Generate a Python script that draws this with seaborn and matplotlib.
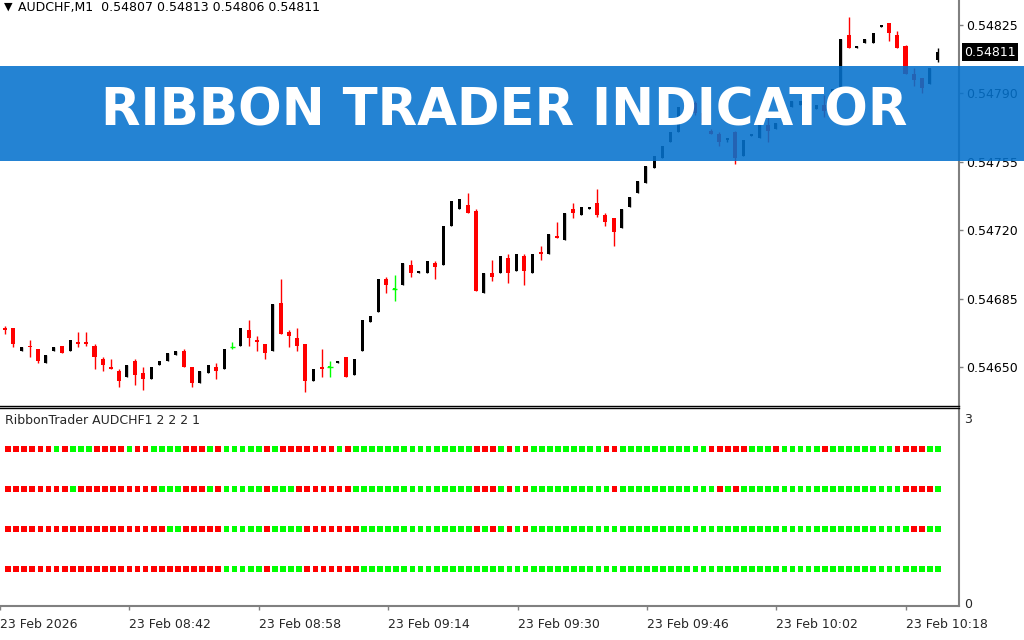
import numpy as np
import pandas as pd
import matplotlib
matplotlib.use("Agg")
import matplotlib.pyplot as plt
from matplotlib.patches import Rectangle
from matplotlib.transforms import blended_transform_factory
import seaborn as sns

## AUDCHF M1 candles, 23 Feb 08:27 .. 10:22, prices in points (1e-5)
open_pts = [54670, 54670, 54658, 54661, 54659, 54652, 54658, 54661, 54658, 54663,
            54663, 54661, 54654, 54650, 54648, 54645, 54653, 54647, 54644, 54651,
            54653, 54656, 54658, 54650, 54642, 54647, 54650, 54649, 54660, 54661,
            54669, 54664, 54662, 54658, 54683, 54668, 54665, 54662, 54643, 54650,
            54650, 54652, 54655, 54646, 54658, 54673, 54678, 54695, 54690, 54692,
            54702, 54698, 54698, 54703, 54702, 54722, 54731, 54733, 54730, 54688,
            54698, 54698, 54706, 54699, 54707, 54698, 54709, 54708, 54717, 54715,
            54731, 54728, 54731, 54734, 54728, 54726, 54721, 54732, 54739, 54744,
            54752, 54757, 54765, 54770, 54784, 54785, 54780, 54771, 54769, 54766,
            54770, 54758, 54768, 54767, 54774, 54772, 54775, 54783, 54784, 54788,
            54782, 54784, 54785, 54793, 54820, 54813, 54816, 54816, 54824, 54826,
            54820, 54814, 54800, 54798, 54795, 54807]
high_pts = [54671, 54670, 54660, 54664, 54659, 54656, 54660, 54661, 54664, 54668,
            54668, 54662, 54655, 54654, 54649, 54651, 54654, 54650, 54650, 54653,
            54657, 54658, 54659, 54650, 54648, 54651, 54652, 54659, 54663, 54670,
            54674, 54666, 54662, 54682, 54695, 54669, 54670, 54662, 54649, 54659,
            54653, 54653, 54655, 54654, 54674, 54676, 54695, 54696, 54697, 54703,
            54705, 54699, 54704, 54704, 54722, 54735, 54736, 54739, 54731, 54698,
            54705, 54707, 54708, 54708, 54708, 54708, 54712, 54718, 54724, 54729,
            54734, 54732, 54732, 54741, 54729, 54726, 54731, 54737, 54745, 54753,
            54758, 54763, 54770, 54783, 54785, 54786, 54781, 54772, 54770, 54767,
            54771, 54766, 54769, 54778, 54778, 54775, 54778, 54786, 54786, 54788,
            54784, 54789, 54792, 54818, 54829, 54814, 54818, 54821, 54825, 54826,
            54822, 54815, 54803, 54798, 54803, 54813]
low_pts = [54667, 54660, 54658, 54655, 54652, 54652, 54658, 54657, 54658, 54660,
           54661, 54649, 54648, 54649, 54640, 54645, 54641, 54638, 54644, 54651,
           54653, 54656, 54650, 54640, 54642, 54647, 54644, 54649, 54659, 54661,
           54661, 54658, 54654, 54658, 54667, 54660, 54658, 54637, 54643, 54645,
           54645, 54652, 54645, 54646, 54658, 54673, 54678, 54688, 54684, 54692,
           54696, 54698, 54698, 54695, 54702, 54722, 54731, 54729, 54689, 54688,
           54694, 54698, 54693, 54699, 54692, 54698, 54705, 54708, 54716, 54715,
           54726, 54728, 54731, 54727, 54722, 54712, 54721, 54732, 54739, 54744,
           54752, 54757, 54765, 54770, 54784, 54779, 54775, 54769, 54763, 54765,
           54754, 54758, 54768, 54767, 54765, 54772, 54775, 54783, 54784, 54783,
           54782, 54778, 54785, 54793, 54813, 54813, 54816, 54816, 54824, 54817,
           54813, 54800, 54794, 54790, 54795, 54806]
close_pts = [54669, 54662, 54660, 54660, 54653, 54656, 54660, 54657, 54664, 54662,
             54662, 54655, 54651, 54649, 54643, 54651, 54646, 54644, 54650, 54653,
             54657, 54658, 54650, 54642, 54648, 54651, 54648, 54659, 54660, 54670,
             54665, 54663, 54657, 54682, 54667, 54666, 54661, 54643, 54649, 54649,
             54650, 54653, 54645, 54654, 54674, 54676, 54695, 54692, 54690, 54703,
             54698, 54699, 54704, 54701, 54722, 54735, 54736, 54729, 54689, 54698,
             54696, 54707, 54698, 54708, 54699, 54708, 54708, 54718, 54716, 54729,
             54729, 54732, 54732, 54728, 54724, 54719, 54731, 54737, 54745, 54753,
             54758, 54763, 54770, 54783, 54785, 54780, 54775, 54769, 54765, 54767,
             54757, 54766, 54769, 54778, 54771, 54775, 54778, 54786, 54786, 54784,
             54784, 54781, 54792, 54818, 54813, 54814, 54818, 54821, 54825, 54821,
             54813, 54800, 54797, 54793, 54803, 54811]

price_ticks = [0.54650, 0.54685, 0.54720, 0.54755, 0.54790, 0.54825]
time_bars = [-1, 15, 31, 47, 63, 79, 95, 111]
time_labels = ["23 Feb 2026", "23 Feb 08:42", "23 Feb 08:58", "23 Feb 09:14",
               "23 Feb 09:30", "23 Feb 09:46", "23 Feb 10:02", "23 Feb 10:18"]

# RibbonTrader lines, top to bottom, one letter per bar (G up / R down)
ribbon_1 = ("RRRRRRGRGG" "GRRRRGRRGG" "GGRRRGRGGG" "GGRGRRRRRR" "RGRGGGGGGG"
            "GGGGGGGGRR" "RGRGRGGGGG" "GGGGRRGGGG" "GGGGGGGRRR" "RRGGGRGGGG"
            "GRGGGGGGGG" "RRRRGG")
ribbon_2 = ("RRRRRRRRGR" "RRRRRRRRRG" "GGRRRGRGGG" "GGRGGGRRRR" "RRRGGGGGGG"
            "GGGGGGGGRR" "RGRGRGGGGG" "GGGGGRGGGG" "GGGGGGGGRG" "RGGGGGGGGG"
            "GGGGGGGGGG" "GRRRRG")
ribbon_3 = ("RRRRRRRRRR" "RRRRRRRRRR" "GGRRRRRGGG" "GGRGGGGRRR" "RRRRGGGGGG"
            "GGGGGGGGRG" "RGRGRGGGGG" "GGGGGGGGGG" "GGGGGGGGGG" "GGGGGGGGGG"
            "GGGGGGGGGG" "GGRRGG")
ribbon_4 = ("RRRRRRRRRR" "RRRRRRRRRR" "RRRRRRRGGG" "GGRGGGGRRR" "RRRRGGGGGG"
            "GGGGGGGGGG" "GGGGGGGGGG" "GGGGGGGGGG" "GGGGGGGGGG" "GGGGGGGGGG"
            "GGGGGGGGGG" "GGGGGG")
ribbon_levels = [2.5, 1.85, 1.2, 0.55]

## tables
bars = pd.DataFrame({"open": open_pts, "high": high_pts,
                     "low": low_pts, "close": close_pts}) / 1e5
bars["bar"] = np.arange(len(bars))
bars["color"] = np.select([bars.close > bars.open, bars.close < bars.open],
                          ["black", "#ff0000"], "#00ff00")

rows = []
for line, level in zip([ribbon_1, ribbon_2, ribbon_3, ribbon_4], ribbon_levels):
    for i, state in enumerate(line):
        rows.append({"bar": i, "level": level, "state": state})
ribbon = pd.DataFrame(rows)

## figure, MT4-like layout in pixels
sns.set_theme(style="white")
plt.rcParams["font.family"] = ["DejaVu Sans"]
W, H = 1024, 640
PX = 8.11                      # pixels per bar
fig = plt.figure(figsize=(W / 100, H / 100), dpi=100)
fig.patch.set_facecolor("white")
ax = fig.add_axes([0, 1 - 406 / H, 959 / W, 406 / H])
ax2 = fig.add_axes([0, 1 - 606 / H, 959 / W, 198 / H])

xlim = (-5.3 / PX, (959 - 5.3) / PX)
pt = 0.5117e-5                 # price per pixel
ax.set_xlim(xlim)
ax.set_ylim(0.54825 - 381 * pt, 0.54825 + 25 * pt)

# candles
ax.vlines(bars.bar, bars.low, bars.high, colors=bars.color, lw=1)
body_lo = bars[["open", "close"]].min(axis=1)
body_h = (bars.close - bars.open).abs().clip(lower=0.6 * pt)
ax.bar(bars.bar, body_h, bottom=body_lo, color=bars.color, lw=0,
       width=np.where(bars.color == "#ff0000", 0.5, 0.37))
doji = bars[bars.close == bars.open]
ax.hlines(doji.open, doji.bar - 0.35, doji.bar + 0.35, colors="#00ff00", lw=1)

ax.set_xticks([])
ax.yaxis.tick_right()
ax.set_yticks(price_ticks)
ax.set_yticklabels([f"{p:.5f}" for p in price_ticks])
ax.tick_params(axis="y", length=3, width=1, color="#808080", pad=2,
               labelsize=9, labelcolor="black")
for s in ["top", "left"]:
    ax.spines[s].set_visible(False)
ax.spines["right"].set_color("#808080")
ax.spines["right"].set_linewidth(1.5)
ax.spines["bottom"].set_color("black")
ax.spines["bottom"].set_linewidth(1)

last = bars.iloc[-1]
ax.text(18 / 959, 1 - 8 / 406,
        f"AUDCHF,M1  {last.open:.5f} {last.high:.5f} {last.low:.5f} {last.close:.5f}",
        transform=ax.transAxes, ha="left", va="center", fontsize=9, color="black")
ax.text(4 / 959, 1 - 7 / 406, "▼", transform=ax.transAxes, ha="left",
        va="center", fontsize=8, color="black")
tr = blended_transform_factory(ax.transAxes, ax.transData)
ax.text(964 / 959, last.close, f"{last.close:.5f}", transform=tr, ha="left",
        va="center", fontsize=9, color="white", clip_on=False,
        bbox=dict(facecolor="black", edgecolor="none", pad=1.8))

# ribbon indicator window
sns.scatterplot(data=ribbon, x="bar", y="level", hue="state",
                palette={"G": "#00ff00", "R": "#ff0000"}, marker="s", s=17,
                linewidth=0, legend=False, ax=ax2)
ax2.set_xlim(xlim)
ax2.set_ylim(-3 / 61.67, 3 + 10 / 61.67)
ax2.set_xlabel("")
ax2.set_ylabel("")
ax2.yaxis.tick_right()
ax2.set_yticks([0, 3])
ax2.set_yticklabels(["0", "3"])
ax2.tick_params(axis="y", length=0, pad=4, labelsize=9)
ax2.set_xticks(time_bars)
ax2.set_xticklabels(time_labels, ha="left")
ax2.tick_params(axis="x", length=3, width=1, color="#808080", pad=6,
                labelsize=9, bottom=True)
ax2.spines["left"].set_visible(False)
ax2.spines["top"].set_color("black")
ax2.spines["top"].set_linewidth(1)
for s in ["right", "bottom"]:
    ax2.spines[s].set_color("#808080")
    ax2.spines[s].set_linewidth(1.5)
ax2.text(5 / 959, 1 - 12 / 198, "RibbonTrader AUDCHF1 2 2 2 1",
         transform=ax2.transAxes, ha="left", va="center", fontsize=9)

# title banner on top of the chart
fig.patches.append(Rectangle((0, 1 - 161 / H), 1, 95 / H, transform=fig.transFigure,
                             facecolor="#0572cd", edgecolor="none", alpha=0.88,
                             zorder=10))
fig.text(504.5 / W, 1 - 111 / H, "RIBBON TRADER INDICATOR", ha="center",
         va="center", fontsize=37, fontweight="bold", color="white", zorder=11)

fig.savefig("out.png", dpi=100)
